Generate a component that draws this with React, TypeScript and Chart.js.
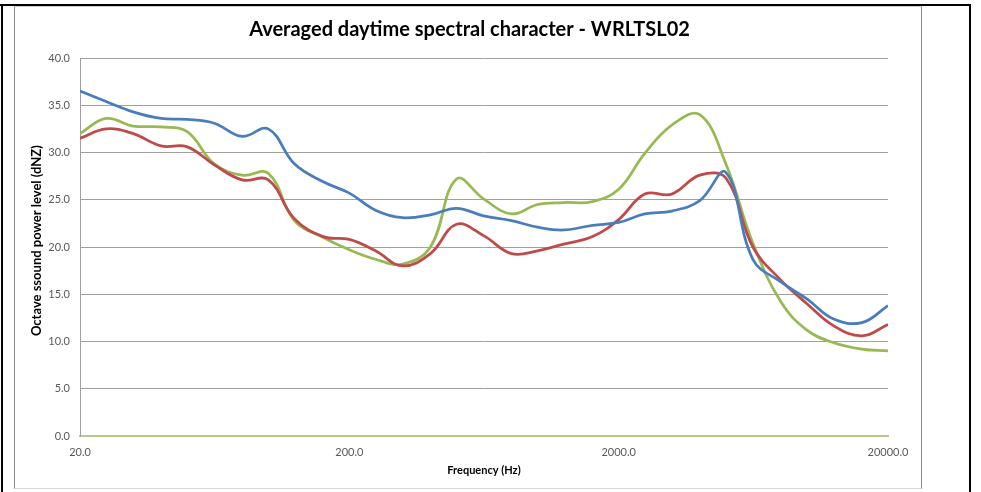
import React, { useEffect, useRef } from "react";
import { Chart, registerables } from "chart.js";

Chart.register(...registerables);

const frequencies = [20, 25, 31.5, 40, 50, 63, 80, 100, 125, 160, 200, 250, 315, 400, 500, 630, 800, 1000, 1250, 1600, 2000, 2500, 3150, 4000, 5000, 6300, 8000, 10000, 12500, 16000, 20000];
const blueSeries = [36.5, 35.4, 34.3, 33.6, 33.5, 33.1, 31.7, 32.5, 28.8, 26.9, 25.7, 23.9, 23.1, 23.4, 24.1, 23.3, 22.8, 22.1, 21.8, 22.3, 22.6, 23.5, 23.8, 24.9, 27.9, 18.7, 16.3, 14.5, 12.4, 12.0, 13.8];
const redSeries = [31.5, 32.5, 32.0, 30.7, 30.6, 28.7, 27.1, 27.1, 23.0, 21.1, 20.8, 19.6, 18.0, 19.3, 22.4, 21.2, 19.3, 19.6, 20.3, 21.1, 22.9, 25.6, 25.6, 27.6, 27.3, 20.0, 16.5, 14.0, 11.7, 10.6, 11.8];
const greenSeries = [32.0, 33.6, 32.8, 32.7, 32.2, 28.8, 27.6, 27.8, 22.8, 21.0, 19.7, 18.7, 18.2, 20.0, 27.2, 25.1, 23.5, 24.5, 24.7, 24.8, 26.1, 29.9, 32.9, 34.0, 28.8, 20.4, 14.2, 11.2, 9.9, 9.2, 9.0];
const xTicks = [20, 200, 2000, 20000];
const yTicks = [0, 5, 10, 15, 20, 25, 30, 35, 40];
const titleText = "Averaged daytime spectral character - WRLTSL02";
const xTitle = "Frequency (Hz)";
const yTitle = "    Octave ssound power level (dNZ)";

const FONT = "Lato, 'Open Sans', sans-serif";

export default function App() {
  const ref = useRef<HTMLCanvasElement | null>(null);
  useEffect(() => {
    if (!ref.current) return;
    const mk = (label: string, data: number[], color: string) => ({
      label,
      data: frequencies.map((f, i) => ({ x: f, y: data[i] })),
      borderColor: color,
      backgroundColor: color,
      borderWidth: 2.75,
      pointRadius: 0,
      tension: 0.4,
      fill: false,
      yAxisID: "y",
    });
    const chart = new Chart(ref.current, {
      type: "line",
      data: {
        datasets: [
          mk("Series 1", blueSeries, "#4a7ebb"),
          mk("Series 2", redSeries, "#be4b48"),
          mk("Series 3", greenSeries, "#98b954"),
        ],
      },
      options: {
        animation: false,
        responsive: false,
        maintainAspectRatio: false,
        layout: { padding: { left: 3, right: 0, top: 0, bottom: 0 } },
        plugins: {
          legend: { display: false },
          tooltip: { enabled: false },
          title: {
            display: true,
            text: titleText,
            color: "#000",
            font: { family: FONT, size: 20, weight: "bold" },
            padding: { top: 11, bottom: 16 },
          },
        },
        scales: {
          x: {
            type: "logarithmic",
            min: 20,
            max: 20000,
            afterBuildTicks: (s: any) => {
              s.ticks = xTicks.map((v) => ({ value: v }));
            },
            afterFit: (s: any) => {
              s.height = 51;
            },
            ticks: {
              autoSkip: false,
              maxRotation: 0,
              padding: 10,
              color: "#595959",
              font: { family: FONT, size: 11 },
              callback: (v: any) => Number(v).toFixed(1),
            },
            grid: { display: false, drawTicks: false },
            border: { display: true, color: "#b3cb8a", width: 2 },
            title: {
              display: true,
              text: xTitle,
              color: "#000",
              font: { family: FONT, size: 11, weight: "bold" },
              padding: { top: 0, bottom: 10 },
            },
          },
          y: {
            position: "left",
            min: 0,
            max: 40,
            afterBuildTicks: (s: any) => {
              s.ticks = yTicks.map((v) => ({ value: v }));
            },
            afterFit: (s: any) => {
              s.width = 62;
            },
            ticks: {
              padding: 10,
              color: "#595959",
              font: { family: FONT, size: 11 },
              callback: (v: any) => Number(v).toFixed(1),
            },
            grid: { color: "#a0a0a0", lineWidth: 1, drawTicks: false },
            border: { display: true, color: "#a0a0a0", width: 1 },
            title: {
              display: true,
              text: yTitle,
              color: "#000",
              font: { family: FONT, size: 13, weight: "bold" },
              padding: { top: 11, bottom: 0 },
            },
          },
          yRight: {
            position: "right",
            min: 0,
            max: 40,
            afterFit: (s: any) => {
              s.width = 33;
            },
            ticks: { display: false },
            grid: { display: false, drawTicks: false },
            border: { display: false },
          },
        },
      },
    });
    return () => chart.destroy();
  }, []);

  return (
    <div style={{ position: "fixed", left: 0, top: 0, width: 981, height: 492, background: "#fff", overflow: "hidden" }}>
      <div style={{ position: "absolute", left: 0, top: 4, width: 971, height: 2, background: "#000" }} />
      <div style={{ position: "absolute", left: 1, top: 4, width: 2, height: 488, background: "#000" }} />
      <div style={{ position: "absolute", left: 969, top: 4, width: 2, height: 488, background: "#000" }} />
      <div
        style={{
          position: "absolute",
          left: 14,
          top: 6,
          width: 906,
          height: 481,
          borderLeft: "1px solid #8c8c8c",
          borderRight: "1px solid #8c8c8c",
          borderBottom: "1px solid #d9d9d9",
          borderTop: "1px solid #d0d0d0",
        }}
      />
      <canvas
        ref={ref}
        width={906}
        height={480}
        style={{ position: "absolute", left: 15, top: 7, width: 906, height: 480 }}
      />
    </div>
  );
}
